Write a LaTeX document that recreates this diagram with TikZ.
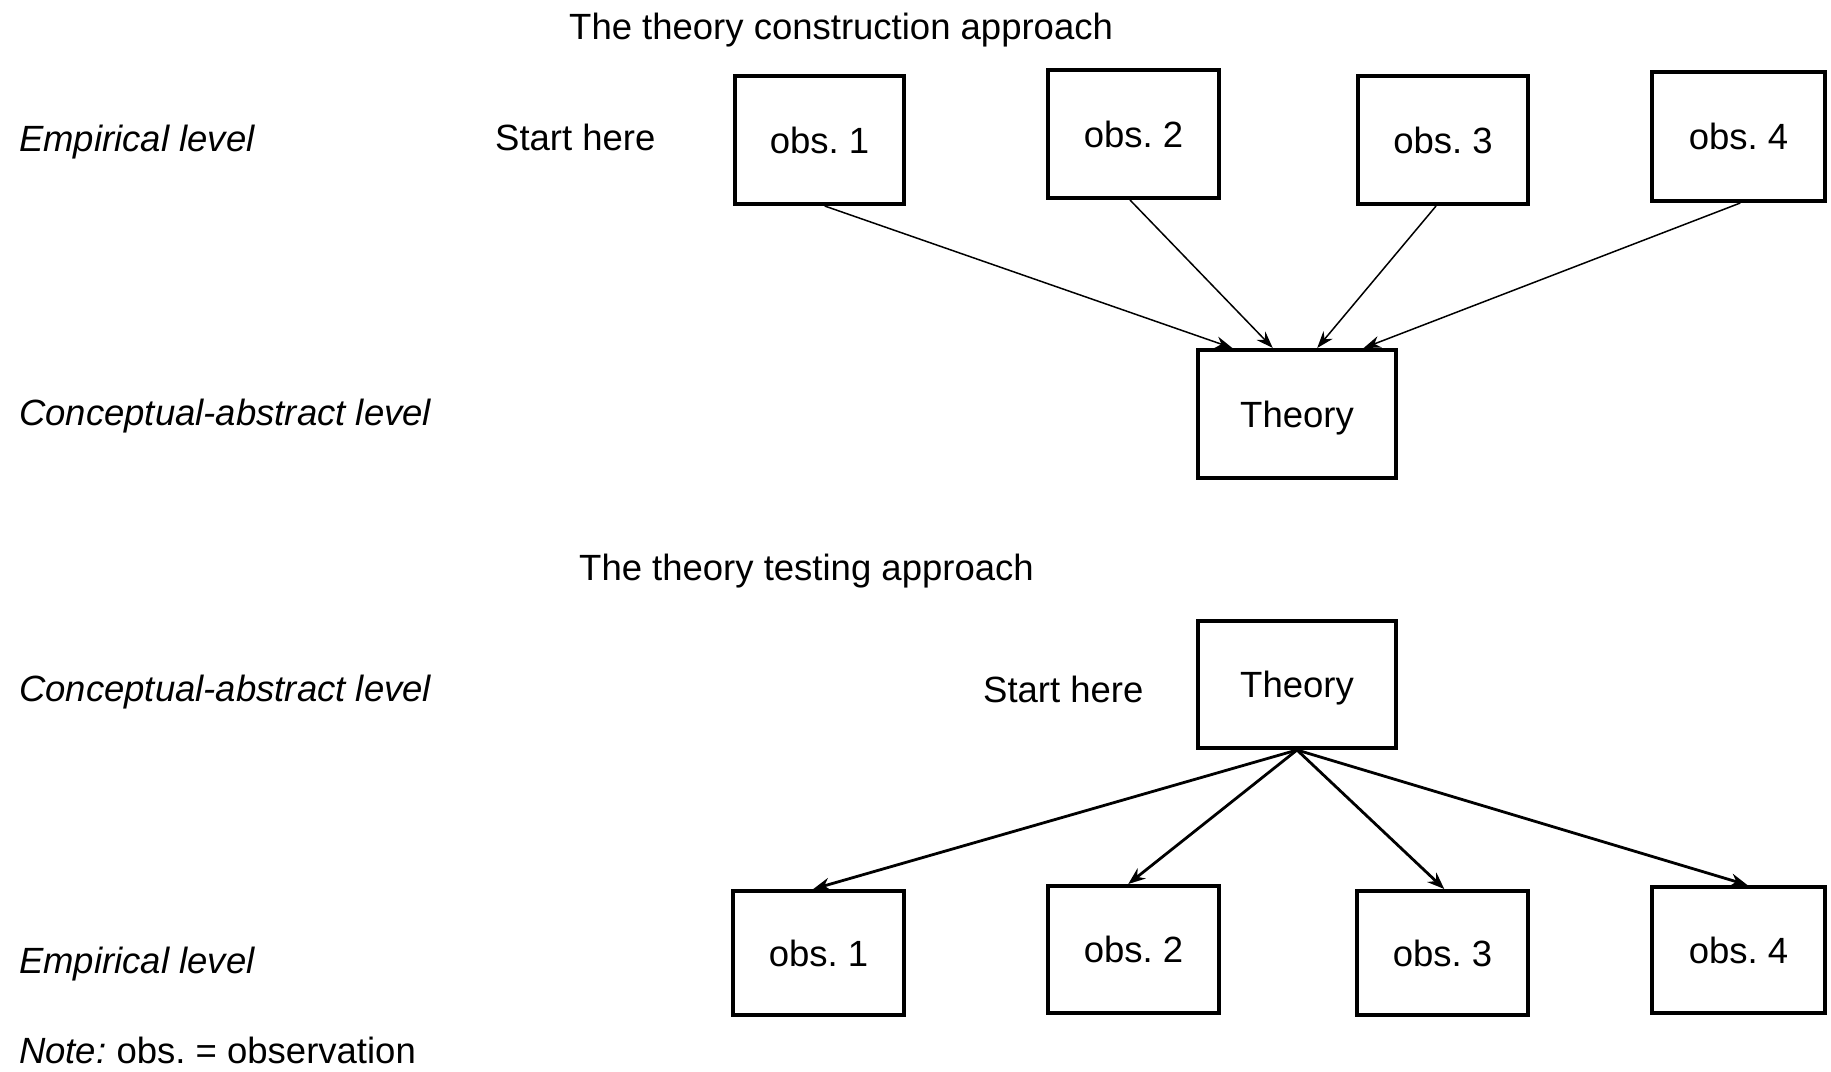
\documentclass[tikz,border=0pt]{standalone}
\usepackage{fontspec}
\setmainfont{Liberation Sans}
\usetikzlibrary{arrows.meta,calc}
\begin{document}
\frenchspacing
\begin{tikzpicture}[x=1pt,y=-1pt,
  box/.style={draw, line width=4.3pt, inner sep=0pt, text depth=0pt, font=\fontsize{36.5}{40}\selectfont},
  lbl/.style={anchor=base west, inner sep=0pt, font=\fontsize{36.5}{40}\selectfont},
  ilbl/.style={lbl, font=\fontsize{36.5}{40}\selectfont\itshape},
  thinarr/.style={line width=1.5pt, -{Stealth[length=17pt,width=12pt]}},
  thickarr/.style={line width=2.8pt, -{Stealth[length=17pt,width=13pt]}}]
\useasboundingbox (0,0) rectangle (1831,1071);
% ---------- top: theory construction ----------
\node[lbl] (t1) at (569,39) {The theory construction approach};
\node[ilbl] (e1) at (19,151) {Empirical level};
\node[lbl] (s1) at (495,150) {Start here};
\node[ilbl] (c1) at (19,425) {Conceptual-abstract level};
\node[box, minimum width=168.7, minimum height=127.7] (o1) at (819.5,140) {obs. 1};
\node[box, minimum width=170.7, minimum height=127.7] (o2) at (1133.5,134) {obs. 2};
\node[box, minimum width=169.7, minimum height=127.7] (o3) at (1443,140) {obs. 3};
\node[box, minimum width=172.7, minimum height=128.7] (o4) at (1738.5,136.5) {obs. 4};
\node[box, minimum width=197.7, minimum height=127.7] (th1) at (1297,414) {Theory};
\draw[thinarr] ($(o1.south west)!0.53!(o1.south east)$) -- ($(th1.north west)!0.18!(th1.north east)$);
\draw[thinarr] ($(o2.south west)!0.48!(o2.south east)$) -- ($(th1.north west)!0.38!(th1.north east)$);
\draw[thinarr] ($(o3.south west)!0.46!(o3.south east)$) -- ($(th1.north west)!0.60!(th1.north east)$);
\draw[thinarr] ($(o4.south west)!0.51!(o4.south east)$) -- ($(th1.north west)!0.83!(th1.north east)$);
% ---------- bottom: theory testing ----------
\node[lbl] (t2) at (579,580) {The theory testing approach};
\node[ilbl] (c2) at (19,701) {Conceptual-abstract level};
\node[lbl] (s2) at (983,702) {Start here};
\node[ilbl] (e2) at (19,973) {Empirical level};
\node[lbl] (n2) at (19,1063) {\textit{Note:} obs. = observation};
\node[box, minimum width=197.7, minimum height=126.7] (th2) at (1297,684.5) {Theory};
\node[box, minimum width=170.7, minimum height=123.7] (p1) at (818.5,953) {obs. 1};
\node[box, minimum width=170.7, minimum height=126.7] (p2) at (1133.5,949.5) {obs. 2};
\node[box, minimum width=170.7, minimum height=123.7] (p3) at (1442.5,953) {obs. 3};
\node[box, minimum width=172.7, minimum height=125.7] (p4) at (1738.5,950) {obs. 4};
\draw[thickarr] (th2.south) -- ($(p1.north west)!0.47!(p1.north east)$);
\draw[thickarr] (th2.south) -- ($(p2.north west)!0.47!(p2.north east)$);
\draw[thickarr] (th2.south) -- ($(p3.north west)!0.51!(p3.north east)$);
\draw[thickarr] (th2.south) -- ($(p4.north west)!0.55!(p4.north east)$);
\end{tikzpicture}
\end{document}
